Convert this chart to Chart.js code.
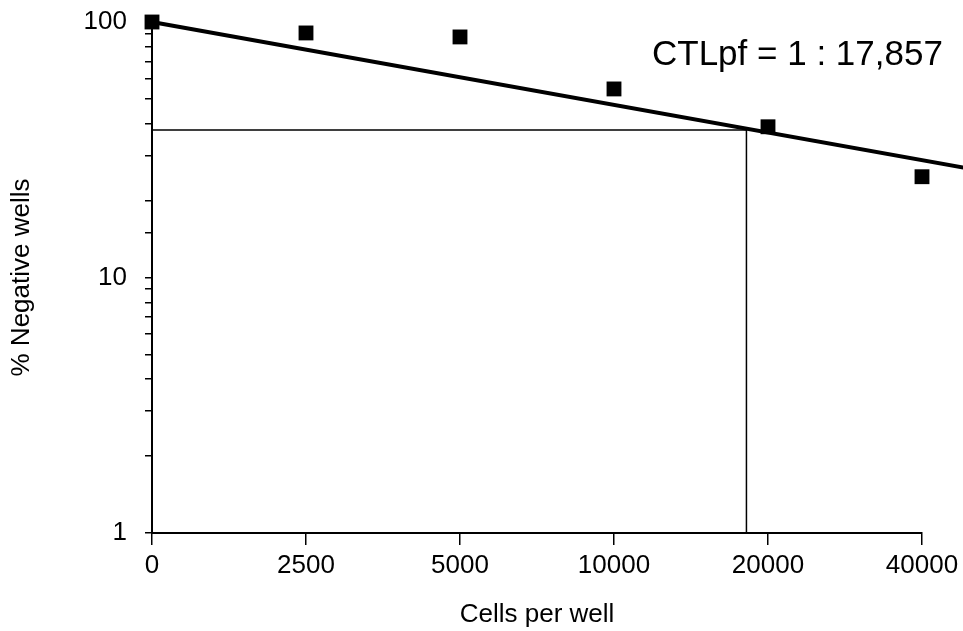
<!DOCTYPE html>
<html>
<head>
<meta charset="utf-8">
<script src="https://cdn.jsdelivr.net/npm/chart.js@4/dist/chart.umd.min.js"></script>
<style>
  body { margin: 0; background: #fff; }
  #wrap { width: 963px; height: 631px; }
</style>
</head>
<body>
<div id="wrap"><canvas id="ctlChart"></canvas></div>
<script>
// data
const cellLabels = ['0', '2500', '5000', '10000', '20000', '40000'];
const negPercent = [100, 90.6, 87.4, 54.7, 38.9, 24.8];
// fitted line (x = category index, extends past the last tick)
const fitX = [0, 5.3];
const fitY = [100, 26.7];
// 37% cut-off lines
const cutX = [0, 3.86, 3.86];
const cutY = [37.8, 37.8, 1];
const yTickLabels = [1, 10, 100];
const noteText = 'CTLpf = 1 : 17,857';

Chart.defaults.font.family = '"Liberation Sans", Arial, sans-serif';
Chart.defaults.color = '#000';

const toPoints = (xs, ys) => xs.map((x, i) => ({ x: x, y: ys[i] }));

const notePlugin = {
  id: 'note',
  afterDraw(chart) {
    const ctx = chart.ctx;
    ctx.save();
    ctx.font = '35px "Liberation Sans", Arial, sans-serif';
    ctx.fillStyle = '#000';
    ctx.textAlign = 'left';
    ctx.textBaseline = 'alphabetic';
    ctx.fillText(noteText, 652, 65);
    ctx.restore();
  }
};

new Chart(document.getElementById('ctlChart'), {
  type: 'scatter',
  data: {
    datasets: [
      {
        label: 'wells',
        data: negPercent.map((v, i) => ({ x: i, y: v })),
        pointStyle: 'rect',
        pointRadius: 10.5,
        backgroundColor: '#000',
        borderWidth: 0,
        showLine: false,
        clip: false
      },
      {
        label: 'fit',
        data: toPoints(fitX, fitY),
        showLine: true,
        borderColor: '#000',
        borderWidth: 4,
        pointRadius: 0,
        clip: false
      },
      {
        label: 'cutoff',
        data: toPoints(cutX, cutY),
        showLine: true,
        borderColor: '#000',
        borderWidth: 1.5,
        pointRadius: 0,
        clip: false
      }
    ]
  },
  options: {
    responsive: true,
    maintainAspectRatio: false,
    animation: false,
    layout: { padding: { top: 22, right: 41, left: 0, bottom: 0 } },
    plugins: {
      legend: { display: false },
      tooltip: { enabled: false }
    },
    scales: {
      x: {
        type: 'linear',
        min: 0,
        max: 5,
        afterBuildTicks: s => { s.ticks = cellLabels.map((_, i) => ({ value: i })); },
        afterFit: s => { s.height = 98; s.paddingLeft = 0; s.paddingRight = 0; },
        ticks: {
          callback: v => cellLabels[v],
          font: { size: 26 },
          padding: 5,
          autoSkip: false,
          maxRotation: 0
        },
        grid: { drawOnChartArea: false, tickLength: 12, color: '#000', lineWidth: 1.5 },
        border: { color: '#000', width: 2 },
        title: {
          display: true,
          text: 'Cells per well',
          font: { size: 26 },
          padding: { top: 0, bottom: 1 }
        }
      },
      y: {
        type: 'logarithmic',
        min: 1,
        max: 100,
        afterFit: s => { s.width = 152; s.paddingTop = 0; s.paddingBottom = 0; },
        ticks: {
          callback: v => yTickLabels.includes(v) ? String(v) : '',
          font: { size: 26 },
          padding: 18,
          autoSkip: false
        },
        grid: { drawOnChartArea: false, tickLength: 7, color: '#000', lineWidth: 1.5 },
        border: { color: '#000', width: 2 },
        title: {
          display: true,
          text: '% Negative wells',
          font: { size: 26 },
          padding: { top: 6, bottom: 0 }
        }
      }
    }
  },
  plugins: [notePlugin]
});
</script>
</body>
</html>
